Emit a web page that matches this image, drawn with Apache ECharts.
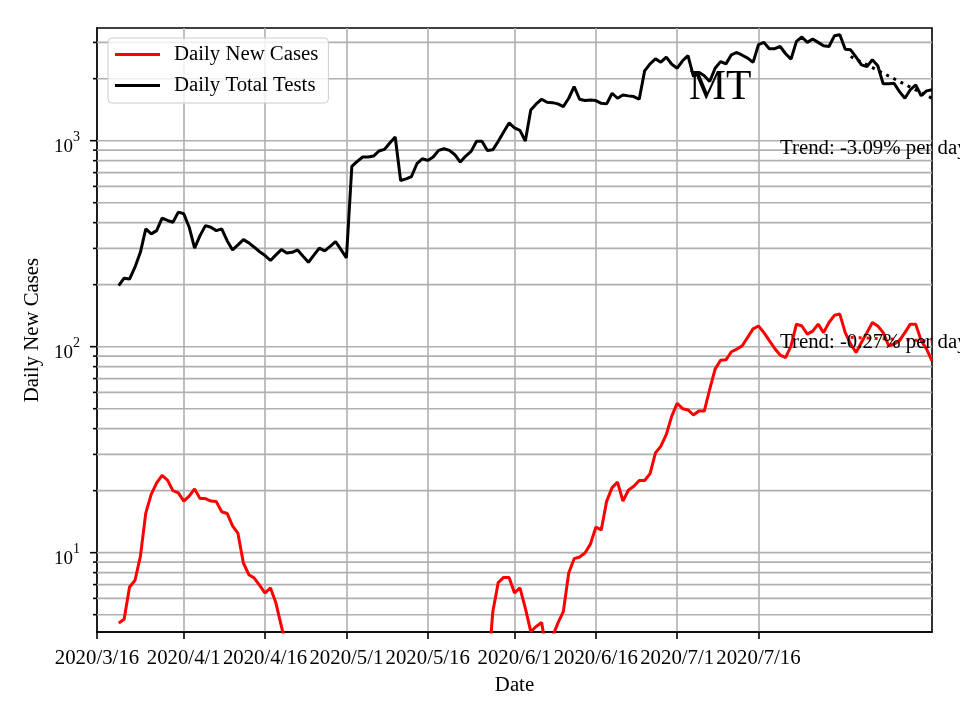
<!DOCTYPE html>
<html><head><meta charset="utf-8">
<script src="https://cdn.jsdelivr.net/npm/echarts@6/dist/echarts.min.js"></script>
<style>html,body{margin:0;padding:0;background:#fff}#c{width:960px;height:720px}</style>
</head><body><div id="c"></div>
<script>
// ---------------- data ----------------
const xTickLabels = ['2020/3/16','2020/4/1','2020/4/16','2020/5/1','2020/5/16','2020/6/1','2020/6/16','2020/7/1','2020/7/16'];

const dailyNewCases = [
  null,null,null,null,
  4.55,4.75,6.81,7.33,9.59,15.6,19.2,21.8,23.7,22.5,20.0,19.5,17.8,18.8,20.4,18.3,18.3,17.8,17.7,15.8,15.5,13.5,12.4,8.91,7.82,7.53,6.93,6.37,6.74,5.69,4.4,3.4,
  3.0,2.6,2.3,2.0,1.9,1.7,1.4,1.3,1.1,1.0,1.0,1.1,1.0,1.0,1.0,1.0,1.0,1.0,1.1,1.3,1.4,1.4,1.6,1.7,1.9,1.7,1.6,1.4,1.4,1.6,1.7,1.9,2.0,2.1,2.2,2.3,
  2.4,
  5.17,7.16,7.58,7.58,6.37,6.74,5.38,4.14,4.38,4.58,
  3.2,3.9,
  4.55,5.17,7.96,9.35,9.53,9.96,11.0,13.3,12.9,17.8,20.7,22.0,
  17.8,20.1,21.0,22.4,22.4,24.2,30.5,32.9,37.5,46.0,53.1,50.0,49.3,46.6,48.7,48.7,
  62.1,77.8,86.0,86.3,94.5,97.3,101,111,122,126,
  117,107,98,91,88.6,101,128.6,126,115,119,128.6,117,
  131,142,144,117,103,93.7,105,117,131,126,
  117,101,103,107,117,128.6,128.6,107,97.3,85.3
];

const dailyTotalTests = [
  null,null,null,null,
  198,215,213,243,287,373,
  353,366,421,410,402,450,442,380,301,346,
  387,380,366,373,327,295,312,331,319,304,
  289,277,262,279,296,285,287,295,275,257,
  278,301,292,307,324,296,270,750,793,833,
  833,842,891,907,974,1042,641,653,670,773,
  817,802,833,897,914,897,855,787,842,887,
  993,993,897,904,993,1102,1219,1153,1122,997,
  1410,1509,1589,1536,1530,1509,1463,1607,1832,1589,
  1566,1577,1566,1518,1509,1699,1607,1667,1650,1637,
  1589,2182,2360,2496,2404,2543,2350,2248,2443,2585,
  2050,2150,2066,1937,2248,2421,2360,2612,2680,2600,
  2515,2399,2925,3000,2795,2795,2866,2642,2488,3034,
  3186,3000,3113,3000,2890,2866,3229,3268,2780,2760,
  2543,2333,2290,2471,2311,1888,1888,1900,1731,1607,
  1767,1867,1653,1745,1767
];

const trendDates = ['2020/8/2','2020/8/17'];
const casesTrend = [111, 106.6];
const testsTrend = [2563, 1607];
const casesTrendLabel = 'Trend: -0.27% per day';
const testsTrendLabel = 'Trend: -3.09% per day';
const stateName = 'MT';

const yMajorTicks = [10, 100, 1000];
const yMinorTicks = [5,6,7,8,9,20,30,40,50,60,70,80,90,200,300,400,500,600,700,800,900,2000,3000];

// ---------------- build ----------------
const categories = [];
for (let i = 0; i < dailyTotalTests.length; i++) {
  const d = new Date(Date.UTC(2020, 2, 16 + i));
  categories.push(d.getUTCFullYear() + '/' + (d.getUTCMonth() + 1) + '/' + d.getUTCDate());
}
const FONT = 'Liberation Serif';
const isTick = (idx, val) => xTickLabels.indexOf(val !== undefined ? val : categories[idx]) >= 0;

const gridData = yMajorTicks.map(v => [0, v, 1]).concat(yMinorTicks.map(v => [0, v, 0]));

const chart = echarts.init(document.getElementById('c'), null, {renderer: 'canvas'});
chart.setOption({
  animation: false,
  backgroundColor: '#ffffff',
  textStyle: {fontFamily: FONT},
  grid: {left: 97, right: 28, top: 28, bottom: 88, show: true, borderColor: '#000', borderWidth: 1.6, backgroundColor: 'transparent'},
  legend: {
    data: ['Daily New Cases', 'Daily Total Tests'],
    orient: 'vertical', left: 108, top: 38,
    padding: [6, 10, 7, 7], itemGap: 10, itemWidth: 45, itemHeight: 3, icon: 'rect',
    backgroundColor: 'rgba(255,255,255,0.8)', borderColor: '#cccccc', borderWidth: 1, borderRadius: 4,
    textStyle: {fontFamily: FONT, fontSize: 20.8, color: '#000', padding: [0, 0, 0, 9]}
  },
  xAxis: {
    type: 'category', data: categories, boundaryGap: false,
    name: 'Date', nameLocation: 'middle', nameGap: 43,
    nameTextStyle: {fontFamily: FONT, fontSize: 20.8, color: '#000'},
    axisLine: {show: true, lineStyle: {color: '#000', width: 1.6}},
    axisTick: {show: true, length: 7, inside: false, interval: (i, v) => isTick(i, v), lineStyle: {color: '#000', width: 1.6}},
    axisLabel: {show: true, interval: (i, v) => isTick(i, v), margin: 16, fontFamily: FONT, fontSize: 20.8, color: '#000'},
    splitLine: {show: true, interval: (i, v) => isTick(i, v), lineStyle: {color: '#b0b0b0', width: 1.6}}
  },
  yAxis: {
    type: 'log', logBase: 10, min: 4.12, max: 3524,
    name: 'Daily New Cases', nameLocation: 'middle', nameGap: 46,
    nameTextStyle: {fontFamily: FONT, fontSize: 20.8, color: '#000'},
    axisLine: {show: true, lineStyle: {color: '#000', width: 1.6}},
    axisTick: {show: false},
    splitLine: {show: false},
    axisLabel: {
      margin: 17, color: '#000',
      formatter: v => {
        const l = Math.log10(v), e = Math.round(l);
        return Math.abs(l - e) < 1e-6 ? '{b|10}{s|' + e + '}' : '';
      },
      rich: {
        b: {fontFamily: FONT, fontSize: 19, lineHeight: 19, padding: [12, 0, 0, 0], color: '#000'},
        s: {fontFamily: FONT, fontSize: 14, lineHeight: 14, padding: [0, 0, 6, 0], color: '#000'}
      }
    }
  },
  series: [
    {
      name: 'grid', type: 'custom', z: 1, silent: true, clip: false,
      data: gridData, encode: {x: 0, y: 1},
      renderItem: (params, api) => {
        const v = api.value(1), major = api.value(2);
        const p = api.coord([0, v]);
        const cs = params.coordSys;
        return {type: 'group', children: [
          {type: 'line', shape: {x1: cs.x, y1: p[1], x2: cs.x + cs.width, y2: p[1]}, style: {stroke: '#b0b0b0', lineWidth: 1.6}},
          {type: 'line', shape: {x1: cs.x - (major ? 7 : 4), y1: p[1], x2: cs.x, y2: p[1]}, style: {stroke: '#000', lineWidth: 1.6}}
        ]};
      }
    },
    {
      name: 'Daily New Cases', type: 'line', data: dailyNewCases, z: 3, clip: true,
      symbol: 'none', showSymbol: false, connectNulls: false,
      itemStyle: {color: '#ff0000'}, lineStyle: {color: '#ff0000', width: 3}
    },
    {
      name: 'Daily Total Tests', type: 'line', data: dailyTotalTests, z: 3, clip: true,
      symbol: 'none', showSymbol: false, connectNulls: false,
      itemStyle: {color: '#000000'}, lineStyle: {color: '#000000', width: 3}
    },
    {
      name: 'casesTrend', type: 'line', z: 4, symbol: 'none', clip: true,
      data: trendDates.map((d, i) => [d, casesTrend[i]]),
      lineStyle: {color: '#ff0000', width: 3, type: [3, 5]}
    },
    {
      name: 'testsTrend', type: 'line', z: 4, symbol: 'none', clip: true,
      data: trendDates.map((d, i) => [d, testsTrend[i]]),
      lineStyle: {color: '#000000', width: 3, type: [3, 5]}
    }
  ],
  graphic: [
    {type: 'text', left: 689, top: 67, z: 10, style: {text: stateName, font: '41.6px "Liberation Serif"', fill: '#000'}},
    {type: 'text', left: 780, top: 138, z: 10, style: {text: testsTrendLabel, font: '20.8px "Liberation Serif"', fill: '#000'}},
    {type: 'text', left: 780, top: 332, z: 10, style: {text: casesTrendLabel, font: '20.8px "Liberation Serif"', fill: '#000'}}
  ]
});
</script></body></html>
